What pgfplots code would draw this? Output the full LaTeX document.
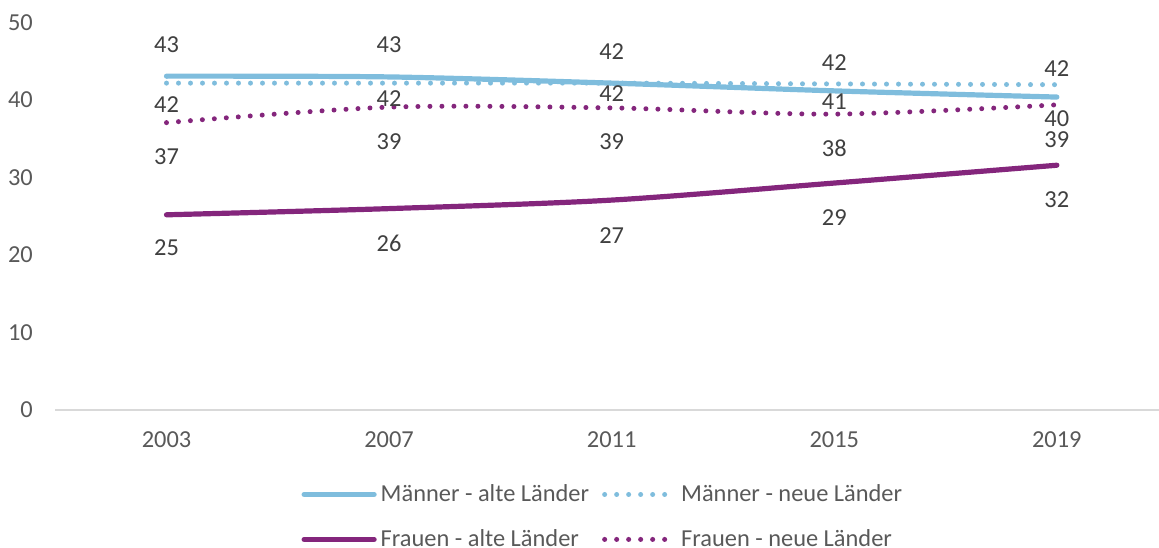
\documentclass[border=0pt]{standalone}
\usepackage{pgfplots}
\pgfplotsset{compat=1.18}
\usepackage{pgfplotstable}
\usepackage{fontspec}
\setmainfont{Carlito}
\definecolor{cblue}{RGB}{127,189,221}
\definecolor{cpurple}{RGB}{132,38,124}
\definecolor{tickgray}{RGB}{89,89,89}
\definecolor{labgray}{RGB}{64,64,64}
\definecolor{axgray}{RGB}{217,217,217}

\pgfplotstableread{
x y dy lab
0 43.1 15.9 43
1 43.0 16.3 43
2 42.2 15.8 42
3 41.2 -5.5 41
4 40.4 -10.8 40
}\mold
\pgfplotstableread{
x y dy lab
0 42.2 -10.8 42
1 42.2 -7.5 42
2 42.2 -5.0 42
3 42.1 10.8 42
4 42.0 8.0 42
}\mnew
\pgfplotstableread{
x y dy lab
0 25.2 -16.5 25
1 26.0 -17.2 26
2 27.1 -17.5 27
3 29.3 -17.5 29
4 31.6 -17.2 32
}\fold
\pgfplotstableread{
x y dy lab
0 37.1 -17.2 37
1 39.1 -17.2 39
2 39.0 -17.0 39
3 38.2 -17.0 38
4 39.4 -17.2 39
}\fnew

\begin{document}
\begin{tikzpicture}
\begin{axis}[
  at={(0,0)}, anchor=south west,
  scale only axis, width=551.9pt, height=193.65pt,
  xmin=-0.5, xmax=4.459, ymin=0, ymax=50,
  xtick={0,1,2,3,4}, xticklabels={2003,2007,2011,2015,2019},
  ytick={0,10,20,30,40,50},
  axis x line*=bottom, axis y line*=left,
  y axis line style={draw=none},
  x axis line style={draw=axgray, line width=0.75pt},
  major tick length=0pt,
  /pgf/number format/assume math mode=true,
  ticklabel style={font=\fontsize{12.2}{14}\selectfont, text=tickgray},
  xticklabel style={anchor=center, inner sep=0pt, yshift=-15pt},
  yticklabel style={anchor=east, inner sep=0pt, xshift=-11pt},
  clip=false,
  point meta=explicit symbolic,
  nodes near coords={\pgfplotspointmeta},
  visualization depends on={\thisrow{dy}\as\dy},
  every node near coord/.append style={anchor=center, inner sep=0pt, yshift=\dy pt, text=labgray, font=\fontsize{12.2}{14}\selectfont},
  legend image code/.code={\draw[#1] (0pt,0pt) -- (35pt,0pt);},
  legend columns=2,
  legend cell align=left,
  legend style={draw=none, fill=none, at={(0.2228,-0.181)}, anchor=north west,
    font=\fontsize{12.2}{14}\selectfont, text=tickgray, inner sep=0pt,
    /tikz/every even column/.append style={column sep=4.5pt},
    row sep=8.5pt},
]
\addplot[cblue, line width=2.6pt, line cap=round, smooth, tension=0.5] table[x=x, y=y, meta=lab] {\mold};
\addlegendentry{Männer - alte Länder}
\addplot[cblue, line width=2.5pt, line cap=round, dash pattern=on 0pt off 6pt, smooth, tension=0.5] table[x=x, y=y, meta=lab] {\mnew};
\addlegendentry{Männer - neue Länder}
\addplot[cpurple, line width=2.6pt, line cap=round, smooth, tension=0.5] table[x=x, y=y, meta=lab] {\fold};
\addlegendentry{Frauen - alte Länder}
\addplot[cpurple, line width=2.5pt, line cap=round, dash pattern=on 0pt off 6pt, smooth, tension=0.5] table[x=x, y=y, meta=lab] {\fnew};
\addlegendentry{Frauen - neue Länder}
\end{axis}
\pgfresetboundingbox
\useasboundingbox (-27.6pt,-68.5pt) rectangle (551.9pt,205pt);
\end{tikzpicture}
\end{document}
